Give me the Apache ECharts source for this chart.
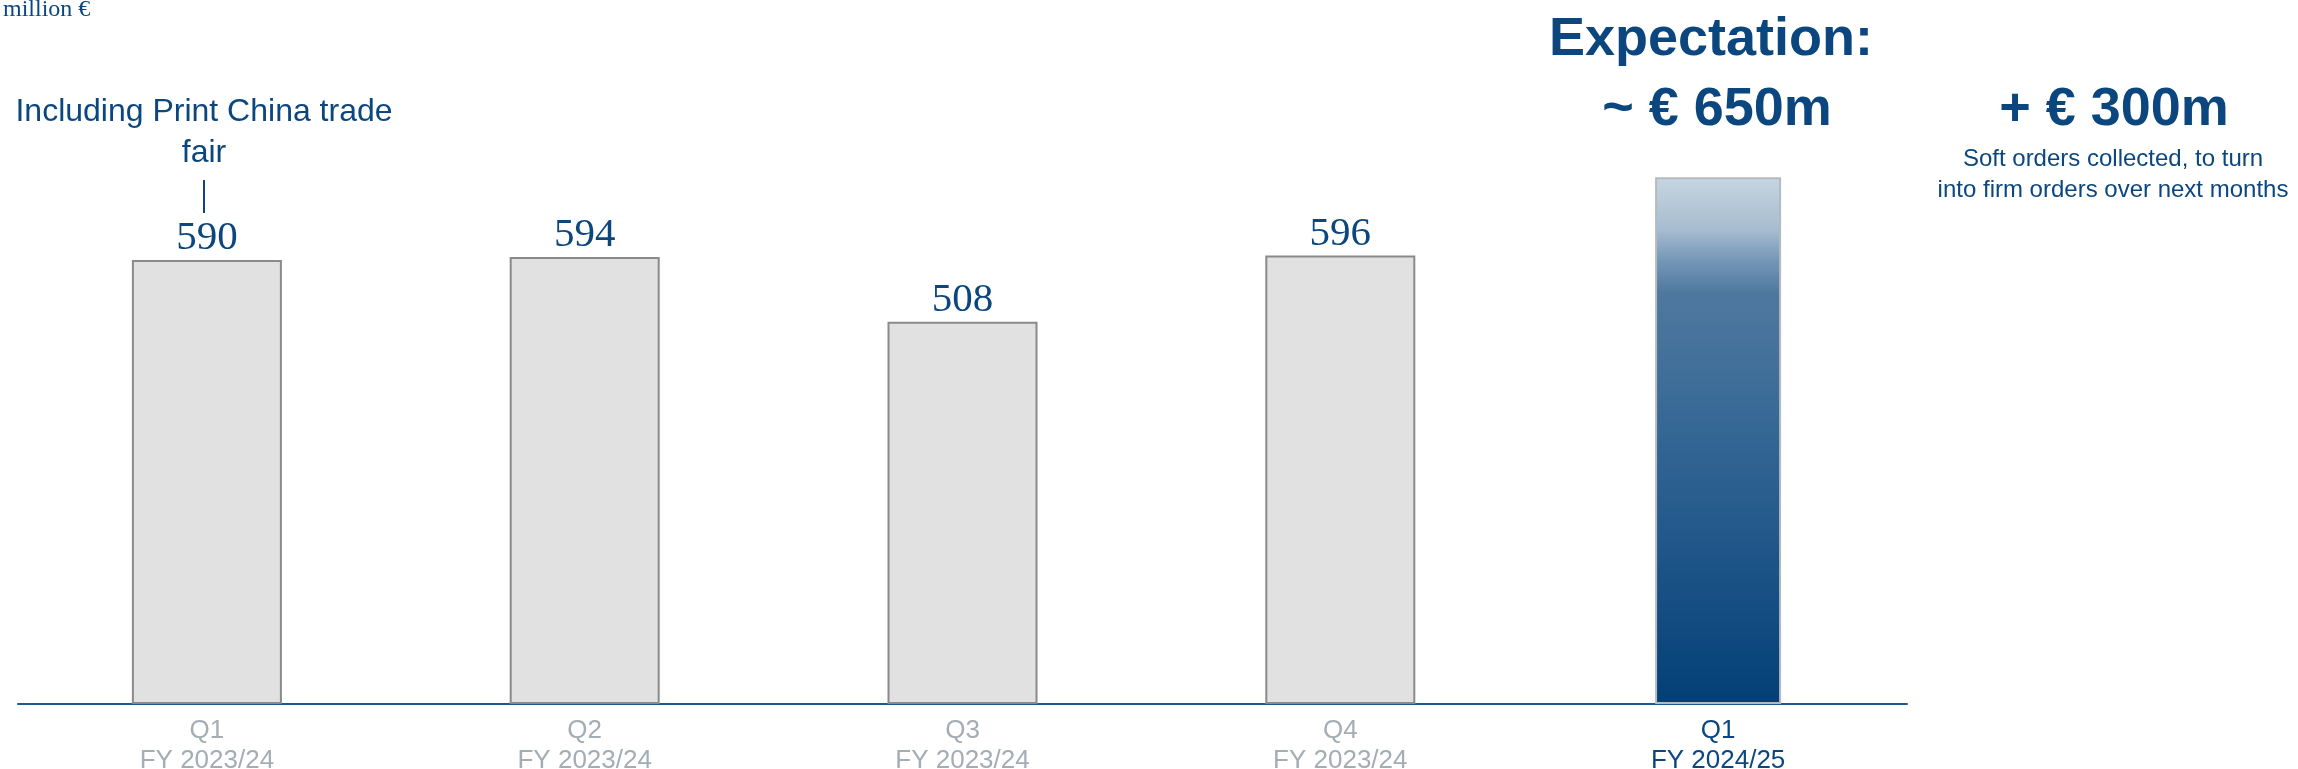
<!DOCTYPE html>
<html>
<head>
<meta charset="utf-8">
<title>Order intake</title>
<script src="https://cdn.jsdelivr.net/npm/echarts@6.0.0/dist/echarts.min.js"></script>
<style>
  html, body { margin: 0; padding: 0; background: #fff; }
  #chart { width: 2298px; height: 769px; }
</style>
</head>
<body>
<div id="chart"></div>
<script>
// quarters shown on the x axis
const categories = ['Q1\nFY 2023/24', 'Q2\nFY 2023/24', 'Q3\nFY 2023/24', 'Q4\nFY 2023/24', 'Q1\nFY 2024/25']
// order intake, million EUR (last quarter is the expectation bar)
const actualOrders = [590, 594, 508, 596, '-']
const expectedOrders = ['-', '-', '-', '-', 700]
const yMax = 800

const BLUE = '#0b477e'
const GREY_TEXT = '#a4adb3'
const SANS = '"Liberation Sans", Arial, Helvetica, sans-serif'
const SERIF = '"Liberation Serif", "Times New Roman", serif'

const chart = echarts.init(document.getElementById('chart'))

function axisData() {
  return categories.map((c, i) => ({
    value: c,
    textStyle: { color: i === categories.length - 1 ? BLUE : GREY_TEXT }
  }))
}

function textEl(text, x, y, font, extra) {
  return {
    type: 'text',
    silent: true,
    style: Object.assign({
      text: text,
      x: x,
      y: y,
      font: font,
      fill: BLUE,
      align: 'center',
      verticalAlign: 'middle',
      textAlign: 'center',
      textVerticalAlign: 'middle'
    }, extra || {})
  }
}

const option = {
  backgroundColor: '#fff',
  animation: false,
  grid: { left: 18, right: 391, top: 102, bottom: 65, outerBoundsMode: 'none', containLabel: false },
  xAxis: [
    {
      type: 'category',
      data: axisData(),
      axisLine: { lineStyle: { color: '#1d5990', width: 2 } },
      axisTick: { show: false },
      axisLabel: {
        fontFamily: SANS,
        fontSize: 26,
        lineHeight: 30,
        margin: 12
      }
    },
    {
      type: 'category',
      data: categories,
      show: false
    }
  ],
  yAxis: {
    type: 'value',
    min: 0,
    max: yMax,
    show: false,
    splitLine: { show: false }
  },
  series: [
    {
      name: 'Order intake',
      type: 'bar',
      xAxisIndex: 0,
      data: actualOrders,
      barWidth: 150,
      itemStyle: { color: '#e1e1e1', borderColor: '#8a8a8a', borderWidth: 2 },
      label: {
        show: true,
        position: 'top',
        distance: 1,
        color: BLUE,
        fontFamily: SERIF,
        fontSize: 41
      }
    },
    {
      name: 'Expectation',
      type: 'bar',
      xAxisIndex: 1,
      data: expectedOrders,
      barWidth: 126,
      itemStyle: {
        borderColor: '#b3bac0',
        borderWidth: 2,
        color: new echarts.graphic.LinearGradient(0, 0, 0, 1, [
          { offset: 0, color: '#c8d5e0' },
          { offset: 0.1, color: '#a6bcd0' },
          { offset: 0.16, color: '#7396b6' },
          { offset: 0.22, color: '#4f789f' },
          { offset: 0.4, color: '#3d6d98' },
          { offset: 0.6, color: '#2a5e8f' },
          { offset: 0.85, color: '#114b80' },
          { offset: 1, color: '#033f75' }
        ])
      }
    }
  ],
  graphic: [
    textEl('million €', 3, 10, '24px ' + SERIF, { align: 'left', textAlign: 'left' }),
    textEl('Including Print China trade\nfair', 204, 133, '32px ' + SANS, { lineHeight: 41 }),
    {
      type: 'line',
      silent: true,
      shape: { x1: 204, y1: 180, x2: 204, y2: 213 },
      style: { stroke: BLUE, lineWidth: 2 }
    },
    textEl('Expectation:', 1711, 40, 'bold 54px ' + SANS),
    textEl('~ € 650m', 1717, 110, 'bold 54px ' + SANS),
    textEl('+ € 300m', 2114, 110, 'bold 54px ' + SANS),
    textEl('Soft orders collected, to turn\ninto firm orders over next months', 2113, 175, '24px ' + SANS, { lineHeight: 31 })
  ]
}

chart.setOption(option)

window.addEventListener('resize', () => chart.resize())
</script>
</body>
</html>
